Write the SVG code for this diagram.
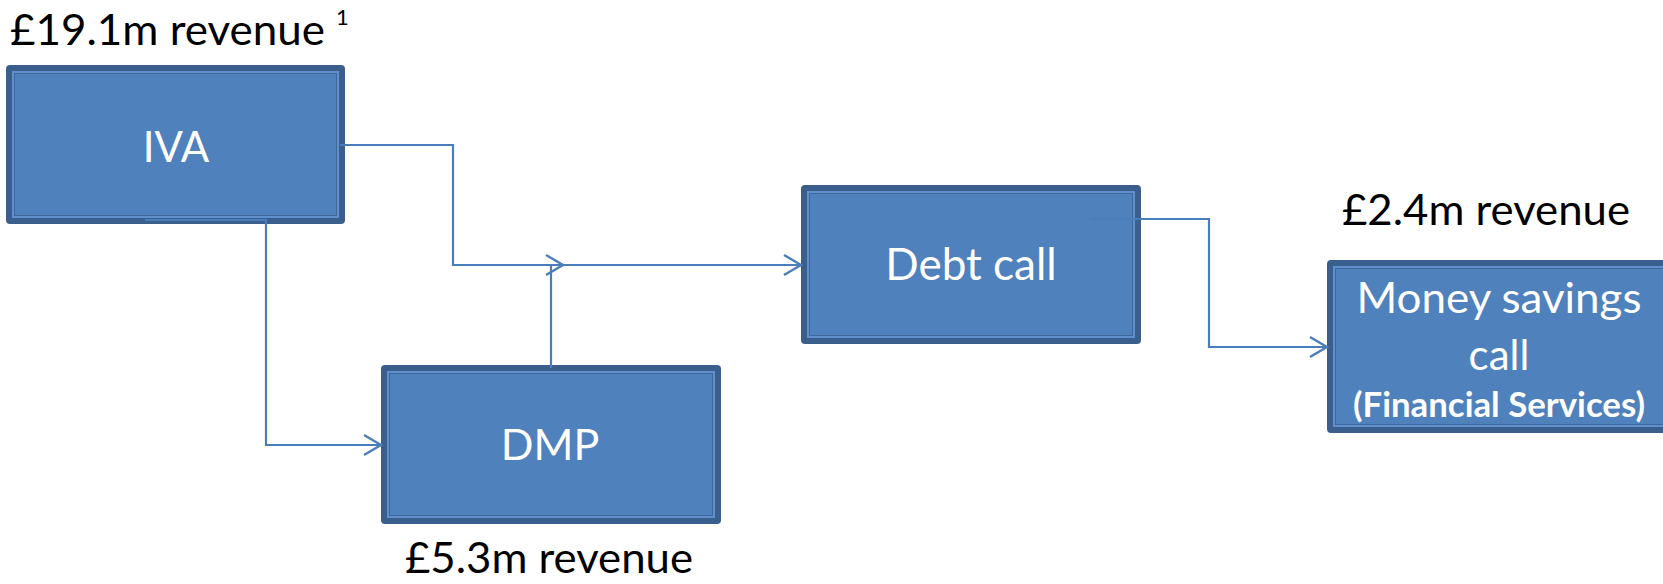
<svg xmlns="http://www.w3.org/2000/svg" width="1663" height="584" viewBox="0 0 1663 584">
<style>
.o{fill:#3B5F8D}
.l{fill:#6090CC}
.d{fill:#3F679B}
.f{fill:#4F81BD}
.lbl{font-family:Lato,"Liberation Sans",sans-serif;fill:#000}
.bt{font-family:Lato,"Liberation Sans",sans-serif;fill:#fff;text-anchor:middle}
.cn{fill:none;stroke:#4A7EBB;stroke-width:2.2}
</style>
<defs>
<marker id="ar" markerUnits="userSpaceOnUse" markerWidth="20" markerHeight="24" refX="17" refY="10" orient="auto" overflow="visible">
<path d="M0,0 L17,10 L0,20" fill="none" stroke="#4A7EBB" stroke-width="2.4"/>
</marker>
</defs>
<rect width="1663" height="584" fill="#fff"/>

<g id="iva">
<rect class="o" x="6" y="65" width="339" height="159" rx="4"/>
<rect class="l" x="12" y="71" width="327" height="147"/>
<rect class="d" x="14" y="73" width="323" height="143"/>
<rect class="f" x="15" y="74" width="321" height="141"/>
<text class="bt" x="176" y="162" font-size="42">IVA</text>
</g>

<g id="dmp">
<rect class="o" x="381" y="365" width="340" height="159" rx="4"/>
<rect class="l" x="387" y="371" width="328" height="147"/>
<rect class="d" x="389" y="373" width="324" height="143"/>
<rect class="f" x="390" y="374" width="322" height="141"/>
<text class="bt" x="550" y="460" font-size="43">DMP</text>
</g>

<g id="debt">
<rect class="o" x="801" y="185" width="340" height="159" rx="4"/>
<rect class="l" x="807" y="191" width="328" height="147"/>
<rect class="d" x="809" y="193" width="324" height="143"/>
<rect class="f" x="810" y="194" width="322" height="141"/>
<text class="bt" x="971" y="280" font-size="44">Debt call</text>
</g>

<g id="money">
<rect class="o" x="1327" y="260" width="345" height="173" rx="4"/>
<rect class="l" x="1333" y="266" width="340" height="161"/>
<rect class="d" x="1335" y="268" width="340" height="157"/>
<rect class="f" x="1336" y="269" width="340" height="155"/>
<text class="bt" x="1499" y="313" font-size="42" textLength="285" lengthAdjust="spacingAndGlyphs">Money savings</text>
<text class="bt" x="1499" y="370" font-size="42">call</text>
<text class="bt" x="1499" y="417" font-size="34" font-weight="bold" textLength="292" lengthAdjust="spacingAndGlyphs">(Financial Services)</text>
</g>

<g id="labels">
<text class="lbl" x="10" y="45" font-size="42" textLength="315" lengthAdjust="spacingAndGlyphs">£19.1m revenue</text>
<text class="lbl" x="336" y="25" font-size="22">1</text>
<text class="lbl" x="405" y="573" font-size="42" textLength="288" lengthAdjust="spacingAndGlyphs">£5.3m revenue</text>
<text class="lbl" x="1342" y="225" font-size="42" textLength="288" lengthAdjust="spacingAndGlyphs">£2.4m revenue</text>
</g>

<g id="connectors">
<path class="cn" d="M340,145 H453 V265 H801" marker-end="url(#ar)"/>
<path class="cn" d="M551,368 V265 H563" marker-end="url(#ar)"/>
<path class="cn" d="M145,220 H266 V445 H381" marker-end="url(#ar)"/>
<path class="cn" d="M1090,219 H1209 V347 H1327" marker-end="url(#ar)"/>
</g>
</svg>
